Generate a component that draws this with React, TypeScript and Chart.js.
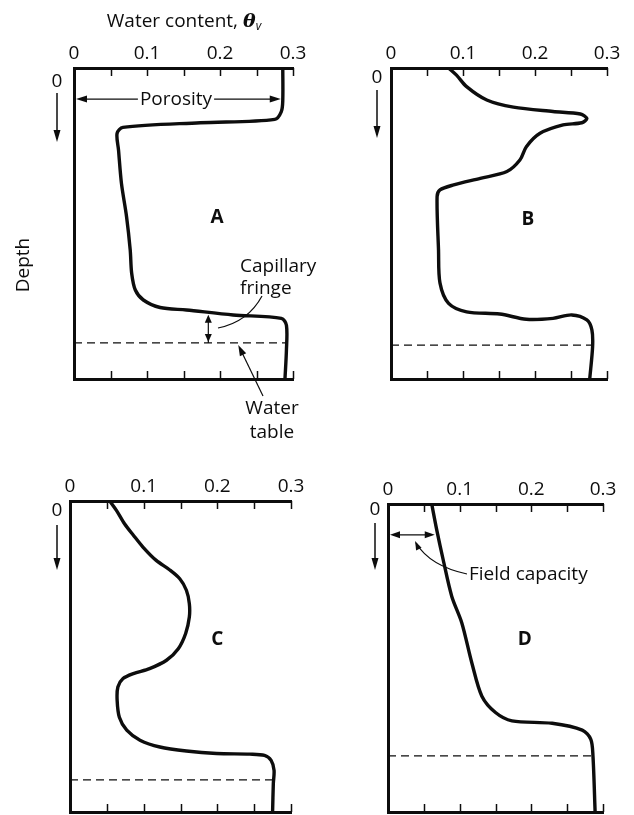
import React, { useEffect, useRef } from 'react';
import { Chart, registerables } from 'chart.js';

Chart.register(...registerables);

// ---------- data ----------
const tickValues = [0, 0.05, 0.1, 0.15, 0.2, 0.25, 0.3];
const tickLabels = ['0', '', '0.1', '', '0.2', '', '0.3'];

// Profile A (water content vs relative depth, 0 = surface, 1 = bottom of figure)
const aTheta = [0.286, 0.286, 0.284, 0.275, 0.173, 0.067, 0.059, 0.061, 0.065, 0.072, 0.077, 0.079, 0.084, 0.095, 0.118, 0.154, 0.218, 0.284, 0.291, 0.291, 0.289];
const aDepth = [0.0, 0.103, 0.14, 0.165, 0.176, 0.191, 0.21, 0.264, 0.371, 0.478, 0.585, 0.66, 0.714, 0.746, 0.77, 0.778, 0.794, 0.805, 0.827, 0.907, 1.0];

// Profile B
const bTheta = [0.08, 0.091, 0.105, 0.133, 0.17, 0.225, 0.263, 0.272, 0.265, 0.239, 0.207, 0.188, 0.179, 0.161, 0.124, 0.087, 0.068, 0.064, 0.066, 0.068, 0.08, 0.105, 0.151, 0.188, 0.225, 0.251, 0.272, 0.279, 0.28, 0.276];
const bDepth = [0.0, 0.023, 0.06, 0.103, 0.126, 0.14, 0.148, 0.162, 0.176, 0.183, 0.21, 0.253, 0.296, 0.333, 0.355, 0.376, 0.392, 0.414, 0.585, 0.691, 0.757, 0.784, 0.791, 0.808, 0.805, 0.794, 0.81, 0.842, 0.896, 1.0];

// Profile C
const cTheta = [0.054, 0.063, 0.074, 0.086, 0.099, 0.117, 0.135, 0.149, 0.158, 0.162, 0.162, 0.157, 0.147, 0.131, 0.108, 0.086, 0.072, 0.065, 0.064, 0.067, 0.077, 0.095, 0.122, 0.158, 0.199, 0.244, 0.264, 0.273, 0.277, 0.276, 0.275];
const cDepth = [0.0, 0.03, 0.073, 0.11, 0.148, 0.191, 0.221, 0.25, 0.287, 0.33, 0.373, 0.426, 0.475, 0.512, 0.539, 0.555, 0.571, 0.598, 0.641, 0.695, 0.737, 0.769, 0.791, 0.804, 0.812, 0.814, 0.818, 0.834, 0.866, 0.909, 1.0];

// Profile D
const dTheta = [0.061, 0.068, 0.077, 0.089, 0.103, 0.117, 0.131, 0.15, 0.173, 0.229, 0.271, 0.283, 0.286, 0.289];
const dDepth = [0.0, 0.084, 0.181, 0.3, 0.386, 0.516, 0.624, 0.677, 0.704, 0.712, 0.734, 0.764, 0.818, 1.0];

// Water table depth and the water content where the dashed line meets the curve
const waterTableDepth = [0.884, 0.891, 0.897, 0.818];
const waterTableTheta = [0.291, 0.28, 0.276, 0.286];

const panelLetters = ['A', 'B', 'C', 'D'];
const porosityTheta = 0.286;
const fieldCapacityTheta = 0.068;

// ---------- layout / style ----------
const W = 634;
const H = 815;
const FONT = "'Open Sans', 'DejaVu Sans', sans-serif";
const INK = '#0d0d0d';
const FS = 19;

type PanelCfg = {
  theta: number[];
  depth: number[];
  area: { l: number; r: number; t: number; b: number };
  letterAt: [number, number];
  zero: { dx: number; dy: number; a0: number; a1: number };
};

const panels: PanelCfg[] = [
  { theta: aTheta, depth: aDepth, area: { l: 74, r: 293, t: 68, b: 379 }, letterAt: [0.196, 0.482], zero: { dx: -17, dy: 14, a0: 25, a1: 74 } },
  { theta: bTheta, depth: bDepth, area: { l: 391, r: 607, t: 68, b: 379 }, letterAt: [0.19, 0.489], zero: { dx: -14, dy: 10, a0: 22, a1: 70 } },
  { theta: cTheta, depth: cDepth, area: { l: 70, r: 291, t: 501, b: 812 }, letterAt: [0.2, 0.447], zero: { dx: -13, dy: 10, a0: 24, a1: 69 } },
  { theta: dTheta, depth: dDepth, area: { l: 388, r: 603, t: 504, b: 812 }, letterAt: [0.191, 0.44], zero: { dx: -13, dy: 6, a0: 19, a1: 66 } },
];

function arrowHead(ctx: CanvasRenderingContext2D, x: number, y: number, ang: number, len = 9, half = 3.5) {
  ctx.save();
  ctx.translate(x, y);
  ctx.rotate(ang);
  ctx.beginPath();
  ctx.moveTo(0, 0);
  ctx.lineTo(-len, -half);
  ctx.lineTo(-len, half);
  ctx.closePath();
  ctx.fill();
  ctx.restore();
}

function line(ctx: CanvasRenderingContext2D, x1: number, y1: number, x2: number, y2: number) {
  ctx.beginPath();
  ctx.moveTo(x1, y1);
  ctx.lineTo(x2, y2);
  ctx.stroke();
}

function makeDecor(idx: number) {
  return {
    id: 'decor' + idx,
    afterDraw(chart: any) {
      const ctx: CanvasRenderingContext2D = chart.ctx;
      const xs = chart.scales.x;
      const ys = chart.scales.y;
      const ca = chart.chartArea;
      const p = panels[idx];
      ctx.save();
      ctx.strokeStyle = INK;
      ctx.fillStyle = INK;

      // inward tick marks, top and bottom
      ctx.lineWidth = 1.5;
      tickValues.forEach((v) => {
        if (v === 0) return;
        const px = Math.round(xs.getPixelForValue(v)) + 0.5;
        line(ctx, px, ca.top, px, ca.top + 8);
        line(ctx, px, ca.bottom, px, ca.bottom - 8);
      });

      // depth zero label + downward arrow
      ctx.font = `${FS}px ${FONT}`;
      ctx.textAlign = 'center';
      ctx.textBaseline = 'middle';
      const zx = ca.left + p.zero.dx;
      ctx.fillText('0', zx, ca.top + p.zero.dy);
      ctx.lineWidth = 1.5;
      line(ctx, zx, ca.top + p.zero.a0, zx, ca.top + p.zero.a1 - 6);
      arrowHead(ctx, zx, ca.top + p.zero.a1, Math.PI / 2, 12, 3.5);

      // panel letter
      ctx.font = `bold ${FS}px ${FONT}`;
      ctx.fillText(panelLetters[idx], xs.getPixelForValue(p.letterAt[0]), ys.getPixelForValue(p.letterAt[1]));

      if (idx === 0) {
        // title
        ctx.textAlign = 'left';
        ctx.textBaseline = 'alphabetic';
        const t1 = 'Water content, ';
        const fMain = `${FS}px ${FONT}`;
        const fTheta = `italic bold ${FS}px 'DejaVu Serif', serif`;
        const fSub = `italic 12px ${FONT}`;
        ctx.font = fMain;
        const w1 = ctx.measureText(t1).width;
        ctx.font = fTheta;
        const w2 = ctx.measureText('θ').width;
        ctx.font = fSub;
        const w3 = ctx.measureText('v').width;
        const total = w1 + w2 + w3;
        let x0 = 184 - total / 2;
        const base = 27;
        ctx.font = fMain;
        ctx.fillText(t1, x0, base);
        x0 += w1;
        ctx.font = fTheta;
        ctx.fillText('θ', x0, base);
        x0 += w2;
        ctx.font = fSub;
        ctx.fillText('v', x0, base + 3);

        // Depth label
        ctx.save();
        ctx.font = `${FS}px ${FONT}`;
        ctx.textAlign = 'center';
        ctx.textBaseline = 'middle';
        ctx.translate(24, 265);
        ctx.rotate(-Math.PI / 2);
        ctx.fillText('Depth', 0, 0);
        ctx.restore();

        // Porosity double arrow
        const py = ys.getPixelForValue(0.1);
        const pl = xs.getPixelForValue(0);
        const pr = xs.getPixelForValue(porosityTheta) - 2;
        ctx.font = `${FS}px ${FONT}`;
        ctx.textAlign = 'center';
        ctx.textBaseline = 'middle';
        const tx = 176;
        const tw = ctx.measureText('Porosity').width;
        ctx.fillText('Porosity', tx, py);
        ctx.lineWidth = 1.2;
        line(ctx, pl + 6, py, tx - tw / 2 - 2, py);
        line(ctx, tx + tw / 2 + 2, py, pr - 6, py);
        arrowHead(ctx, pl + 2, py, Math.PI, 11, 3.5);
        arrowHead(ctx, pr, py, 0, 11, 3.5);

        // Capillary fringe
        const cx = xs.getPixelForValue(0.184);
        const cy0 = ys.getPixelForValue(0.79);
        const cy1 = ys.getPixelForValue(waterTableDepth[0]);
        ctx.lineWidth = 1.2;
        line(ctx, cx, cy0 + 4, cx, cy1);
        arrowHead(ctx, cx, cy0 + 1, -Math.PI / 2, 8, 3.5);
        arrowHead(ctx, cx, cy1 - 1, Math.PI / 2, 8, 3.5);
        ctx.textAlign = 'left';
        ctx.fillText('Capillary', 240, 267);
        ctx.fillText('fringe', 240, 289);
        ctx.beginPath();
        ctx.moveTo(218, 328);
        ctx.quadraticCurveTo(248, 322, 262, 296);
        ctx.stroke();

        // Water table pointer
        ctx.textAlign = 'center';
        ctx.fillText('Water', 272, 409);
        ctx.fillText('table', 272, 433);
        const wx = xs.getPixelForValue(0.225);
        const wy = ys.getPixelForValue(waterTableDepth[0]) + 2;
        const ang = Math.atan2(wy - 396, wx - 263);
        line(ctx, 263, 396, wx - Math.cos(ang) * 6, wy - Math.sin(ang) * 6);
        arrowHead(ctx, wx, wy, ang, 11, 3.5);
      }

      if (idx === 3) {
        const fy = ys.getPixelForValue(0.1);
        const fl = xs.getPixelForValue(0);
        const fr = xs.getPixelForValue(fieldCapacityTheta) - 2;
        ctx.lineWidth = 1.2;
        line(ctx, fl + 5, fy, fr - 5, fy);
        arrowHead(ctx, fl + 2, fy, Math.PI, 10, 3.5);
        arrowHead(ctx, fr, fy, 0, 10, 3.5);
        ctx.beginPath();
        ctx.moveTo(467, 574);
        ctx.quadraticCurveTo(430, 566, 416, 543);
        ctx.stroke();
        arrowHead(ctx, 415, 541, Math.atan2(541 - 560, 415 - 424), 9, 3);
        ctx.font = `${FS}px ${FONT}`;
        ctx.textAlign = 'left';
        ctx.textBaseline = 'middle';
        ctx.fillText('Field capacity', 469, 575);
      }
      ctx.restore();
    },
  };
}

function buildConfig(idx: number): any {
  const p = panels[idx];
  const profile = p.theta.map((t, i) => ({ x: t, y: p.depth[i] }));
  const wt = [
    { x: 0, y: waterTableDepth[idx] },
    { x: waterTableTheta[idx], y: waterTableDepth[idx] },
  ];
  return {
    type: 'line',
    data: {
      datasets: [
        {
          data: profile,
          borderColor: INK,
          borderWidth: 3.4,
          pointRadius: 0,
          tension: 0.3,
          fill: false,
          borderCapStyle: 'round',
          borderJoinStyle: 'round',
        },
        {
          data: wt,
          borderColor: INK,
          borderWidth: 1.2,
          borderDash: [8, 5],
          pointRadius: 0,
          tension: 0,
          fill: false,
        },
      ],
    },
    options: {
      animation: false,
      responsive: false,
      devicePixelRatio: 1,
      events: [],
      layout: { padding: { left: p.area.l, right: W - p.area.r, top: 0, bottom: H - p.area.b } },
      plugins: { legend: { display: false }, tooltip: { enabled: false }, title: { display: false } },
      scales: {
        x: {
          type: 'linear',
          position: 'top',
          min: 0,
          max: 0.3,
          afterBuildTicks: (s: any) => {
            s.ticks = tickValues.map((v) => ({ value: v }));
          },
          afterFit: (s: any) => {
            s.height = p.area.t;
          },
          ticks: {
            autoSkip: false,
            maxRotation: 0,
            padding: 3,
            color: INK,
            font: { family: FONT, size: FS },
            callback: (_v: any, i: number) => tickLabels[i],
          },
          grid: { display: false, drawTicks: false },
          border: { display: true, width: 3, color: INK },
        },
        x2: {
          type: 'linear',
          position: 'bottom',
          min: 0,
          max: 0.3,
          afterFit: (s: any) => {
            s.height = 0;
          },
          ticks: { display: false },
          grid: { display: false, drawTicks: false },
          border: { display: true, width: 3, color: INK },
        },
        y: {
          type: 'linear',
          position: 'left',
          min: 0,
          max: 1,
          reverse: true,
          afterFit: (s: any) => {
            s.width = 0;
          },
          ticks: { display: false },
          grid: { display: false, drawTicks: false },
          border: { display: true, width: 3, color: INK },
        },
      },
    },
    plugins: [makeDecor(idx)],
  };
}

function Panel({ idx }: { idx: number }) {
  const ref = useRef<HTMLCanvasElement>(null);
  useEffect(() => {
    if (!ref.current) return;
    const chart = new Chart(ref.current, buildConfig(idx));
    return () => chart.destroy();
  }, [idx]);
  return (
    <canvas
      ref={ref}
      width={W}
      height={H}
      style={{ position: 'absolute', left: 0, top: 0, width: W, height: H }}
    />
  );
}

export default function App() {
  return (
    <div style={{ position: 'absolute', left: 0, top: 0, width: W, height: H, background: '#fff', overflow: 'hidden' }}>
      {[0, 1, 2, 3].map((i) => (
        <Panel key={i} idx={i} />
      ))}
    </div>
  );
}
